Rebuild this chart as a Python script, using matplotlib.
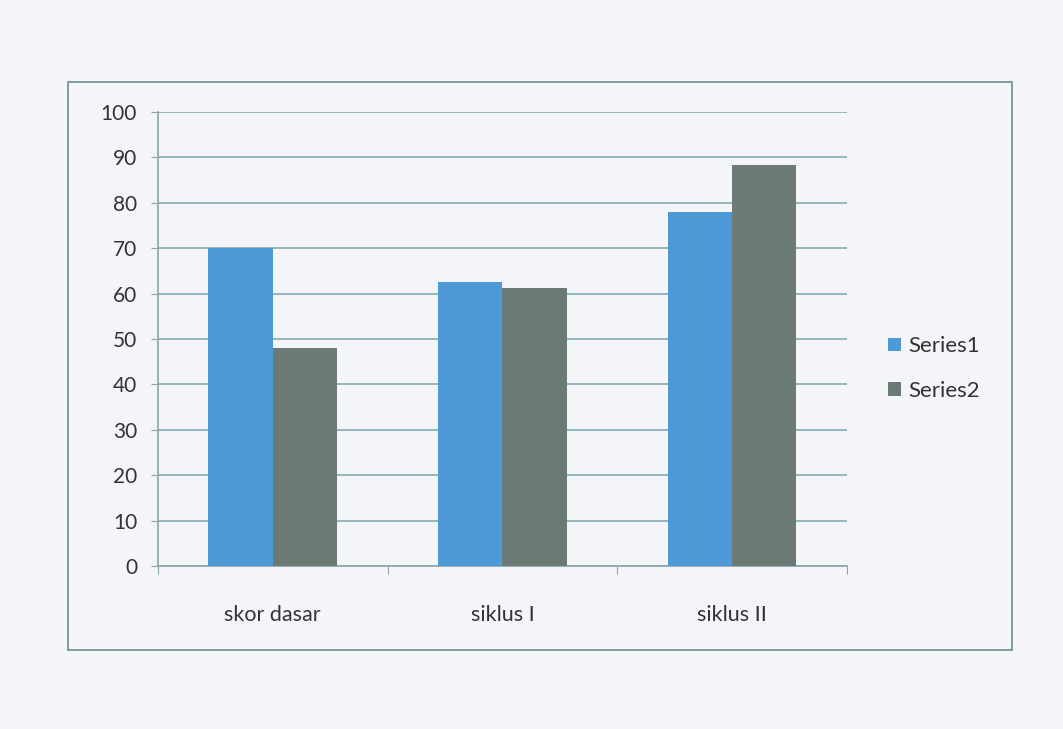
import numpy as np
import matplotlib.pyplot as plt
from matplotlib.patches import Rectangle

categories = ["skor dasar", "siklus I", "siklus II"]
series1 = [70.0, 62.6, 78.0]
series2 = [48.0, 61.2, 88.3]
yticks = [0, 10, 20, 30, 40, 50, 60, 70, 80, 90, 100]

plt.rcParams["font.family"] = ["Lato", "DejaVu Sans"]

fig = plt.figure(figsize=(10.63, 7.29), dpi=100)
fig.patch.set_facecolor("#f4f5f9")

# outer chart frame
fig.patches.append(Rectangle((0.064, 0.1084), 0.888, 0.779, transform=fig.transFigure,
                             fill=False, edgecolor="#7d9da3", linewidth=1.4))

ax = fig.add_axes([0.1486, 0.2236, 0.6482, 0.6228])
ax.set_facecolor("none")

x = np.arange(len(categories))
w = 0.28
ax.bar(x - w / 2, series1, w, color="#4e9ad6", label="Series1", zorder=3)
ax.bar(x + w / 2, series2, w, color="#6b7a74", label="Series2", zorder=3)

ax.set_xlim(-0.5, len(categories) - 0.5)
ax.set_ylim(0, 100)
ax.set_yticks(yticks)
ax.yaxis.grid(True, color="#85abb3", linewidth=1.2, zorder=0)
ax.tick_params(axis="y", length=5, color="#8aa6ab", labelsize=15, labelcolor="#333333", pad=10)

ax.set_xticks(np.arange(len(categories) + 1) - 0.5)
ax.set_xticklabels([])
ax.set_xticks(x, minor=True)
ax.set_xticklabels(categories, minor=True)
ax.tick_params(axis="x", which="major", length=6, color="#8aa6ab")
ax.tick_params(axis="x", which="minor", length=0, labelsize=15.5, labelcolor="#333333", pad=28)

for s in ["top", "right"]:
    ax.spines[s].set_visible(False)
for s in ["left", "bottom"]:
    ax.spines[s].set_color("#8aa6ab")
    ax.spines[s].set_linewidth(1.2)

leg = fig.legend(loc="upper left", bbox_to_anchor=(0.817, 0.566), frameon=False,
                 fontsize=16, handlelength=0.55, handleheight=0.55, handletextpad=0.35,
                 labelspacing=1.1, labelcolor="#333333")

fig.savefig("out.png", dpi=100, facecolor=fig.get_facecolor())
